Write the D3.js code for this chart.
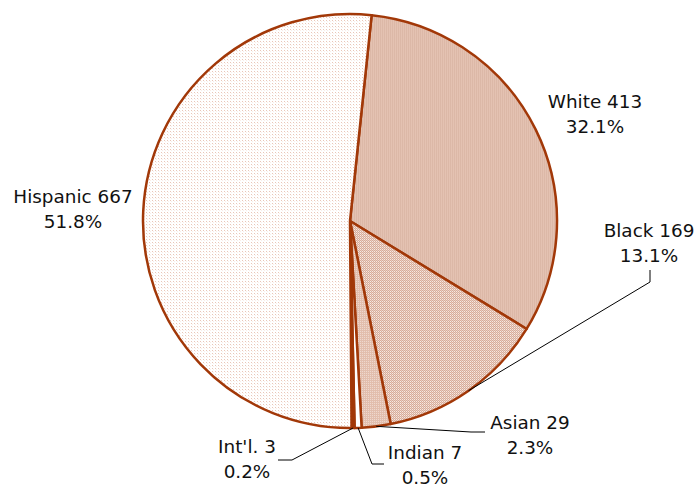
<!DOCTYPE html>
<html>
<head>
<meta charset="utf-8">
<script src="https://cdn.jsdelivr.net/npm/d3@7"></script>
<style>
  html, body { margin: 0; padding: 0; background: #fff; }
  svg { display: block; }
  text { font-family: "DejaVu Sans", Verdana, sans-serif; font-size: 18.4px; fill: #111; }
</style>
</head>
<body>
<svg id="chart" width="699" height="487"></svg>
<script>
// Enrollment by ethnicity, drawn clockwise starting with White
const categories = ["White", "Black", "Asian", "Indian", "Int'l.", "Hispanic"];
const counts     = [413, 169, 29, 7, 3, 667];
const percents   = ["32.1%", "13.1%", "2.3%", "0.5%", "0.2%", "51.8%"];

const cx = 350, cy = 221, R = 207;
const startDeg = 6;
const strokeColor = "#a23808";

const svg = d3.select("#chart");
const defs = svg.append("defs");

// Fill textures
function pattern(id, w, h, bg, cells) {
  const p = defs.append("pattern").attr("id", id)
    .attr("patternUnits", "userSpaceOnUse").attr("width", w).attr("height", h);
  p.append("rect").attr("width", w).attr("height", h).attr("fill", bg);
  cells.forEach(c => p.append("rect").attr("x", c[0]).attr("y", c[1])
    .attr("width", c[2]).attr("height", c[3]).attr("fill", c[4]));
}
pattern("pWhite", 2, 2, "#e4c2b2", [[0, 0, 1, 2, "#dcb8a7"]]);
pattern("pBlack", 2, 2, "#d8ac99", [[0, 0, 1, 1, "#f6e9e3"], [1, 1, 1, 1, "#e8cdc1"]]);
pattern("pAsian", 2, 2, "#e2bead", [[0, 0, 1, 1, "#eed8ce"]]);
pattern("pHisp", 3, 3, "#ffffff", [[0, 0, 1, 1, "#e9c6b8"], [1, 1, 1, 1, "#f9eee9"]]);

const fills = ["url(#pWhite)", "url(#pBlack)", "url(#pAsian)", "#ffffff", strokeColor, "url(#pHisp)"];

const pie = d3.pie().sort(null).value(d => d)
  .startAngle(startDeg * Math.PI / 180)
  .endAngle((startDeg + 360) * Math.PI / 180);
const arcs = pie(counts);
const arc = d3.arc().innerRadius(0).outerRadius(R);

const g = svg.append("g").attr("transform", `translate(${cx},${cy})`);
g.selectAll("path.slice").data(arcs).enter().append("path")
  .attr("class", "slice")
  .attr("d", arc)
  .attr("fill", (d, i) => fills[i])
  .attr("stroke", strokeColor)
  .attr("stroke-width", 2.5)
  .attr("stroke-linejoin", "round");

// Label placement (text centre x, first baseline y) and leader elbows
const labelPos = {
  "White":    { x: 595, y: 108 },
  "Hispanic": { x: 73,  y: 203 },
  "Black":    { x: 649, y: 237 },
  "Asian":    { x: 530, y: 429 },
  "Indian":   { x: 425, y: 459 },
  "Int'l.":   { x: 247, y: 453 }
};
const leaders = {
  "Black":  [[650, 282], [650, 270]],
  "Asian":  [[471, 432], [485, 432]],
  "Indian": [[372, 464], [384, 464]],
  "Int'l.": [[292, 460], [278, 460]]
};

function arcMid(d) {
  const a = (d.startAngle + d.endAngle) / 2;
  return [cx + R * Math.sin(a), cy - R * Math.cos(a)];
}

arcs.forEach((d, i) => {
  const name = categories[i];
  if (leaders[name]) {
    svg.append("path")
      .attr("d", d3.line()([arcMid(d)].concat(leaders[name])))
      .attr("fill", "none")
      .attr("stroke", "#000")
      .attr("stroke-width", 1);
  }
  const p = labelPos[name];
  const t = svg.append("text").attr("text-anchor", "middle");
  t.append("tspan").attr("x", p.x).attr("y", p.y).text(`${name} ${counts[i]}`);
  t.append("tspan").attr("x", p.x).attr("y", p.y + 25).text(percents[i]);
});
</script>
</body>
</html>
